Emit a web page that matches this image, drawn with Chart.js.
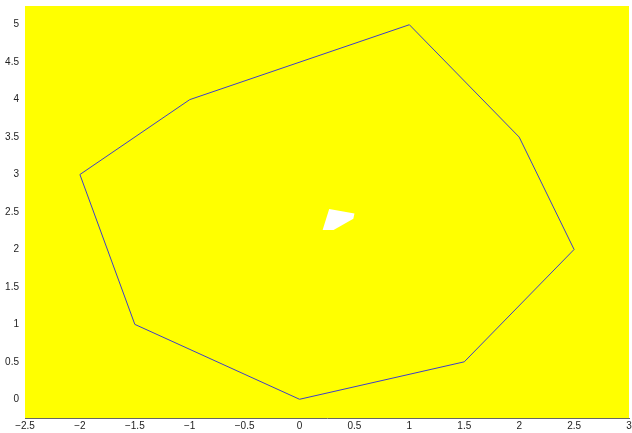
<!DOCTYPE html>
<html><head><meta charset="utf-8">
<script src="https://cdn.jsdelivr.net/npm/chart.js@4/dist/chart.umd.min.js"></script>
<style>html,body{margin:0;padding:0;background:#fff}#wrap{width:632px;height:433px}</style>
</head><body><div id="wrap"><canvas id="c" width="632" height="433"></canvas></div>
<script>
const outerX = [0, 1.5, 2.5, 2, 1, -1, -2, -1.5, 0];
const outerY = [0, 0.5, 2, 3.5, 5, 4, 3, 1, 0];
const holeX = [0.21, 0.31, 0.49, 0.5, 0.27, 0.21];
const holeY = [2.26, 2.26, 2.41, 2.48, 2.54, 2.26];
const xTicks = [-2.5, -2, -1.5, -1, -0.5, 0, 0.5, 1, 1.5, 2, 2.5, 3];
const yTicks = [0, 0.5, 1, 1.5, 2, 2.5, 3, 3.5, 4, 4.5, 5];

const pts = (xs, ys) => xs.map((x, i) => ({x, y: ys[i]}));
const fmt = v => (v < 0 ? '\u2212' + Math.abs(v) : String(v));

const bg = {
  id: 'bg',
  beforeDatasetsDraw(chart) {
    const {ctx, chartArea: a} = chart;
    ctx.save();
    ctx.fillStyle = '#ffff00';
    ctx.fillRect(a.left, a.top, a.right - a.left, a.bottom - a.top);
    ctx.restore();
  }
};

new Chart(document.getElementById('c'), {
  type: 'scatter',
  data: {
    datasets: [
      {data: pts(holeX, holeY), showLine: true, borderWidth: 0, borderColor: 'rgba(0,0,0,0)',
       backgroundColor: '#ffffff', fill: 'shape', pointRadius: 0, tension: 0},
      {data: pts(outerX, outerY), showLine: true, borderWidth: 1, borderColor: '#4040c8',
       fill: false, pointRadius: 0, tension: 0}
    ]
  },
  options: {
    responsive: false, animation: false,
    layout: {padding: {top: 6, right: 3, left: 0, bottom: 0}},
    plugins: {legend: {display: false}, tooltip: {enabled: false}},
    scales: {
      x: {
        type: 'linear', min: -2.5, max: 3,
        afterBuildTicks: s => { s.ticks = xTicks.map(v => ({value: v})); },
        afterFit: s => { s.height = 15; s.paddingLeft = 0; s.paddingRight = 0; },
        grid: {display: false, drawTicks: false},
        border: {display: true, color: '#666', width: 1},
        ticks: {callback: fmt, color: '#222', padding: 2, maxRotation: 0, autoSkip: false,
                font: {family: 'Liberation Sans', size: 10}}
      },
      y: {
        type: 'linear', min: -0.25, max: 5.25,
        afterBuildTicks: s => { s.ticks = yTicks.map(v => ({value: v})); },
        afterFit: s => { s.width = 25; s.paddingTop = 0; s.paddingBottom = 0; },
        grid: {display: false, drawTicks: false},
        border: {display: false},
        ticks: {callback: fmt, color: '#222', padding: 6, autoSkip: false,
                font: {family: 'Liberation Sans', size: 10}}
      }
    }
  },
  plugins: [bg]
});
</script></body></html>
